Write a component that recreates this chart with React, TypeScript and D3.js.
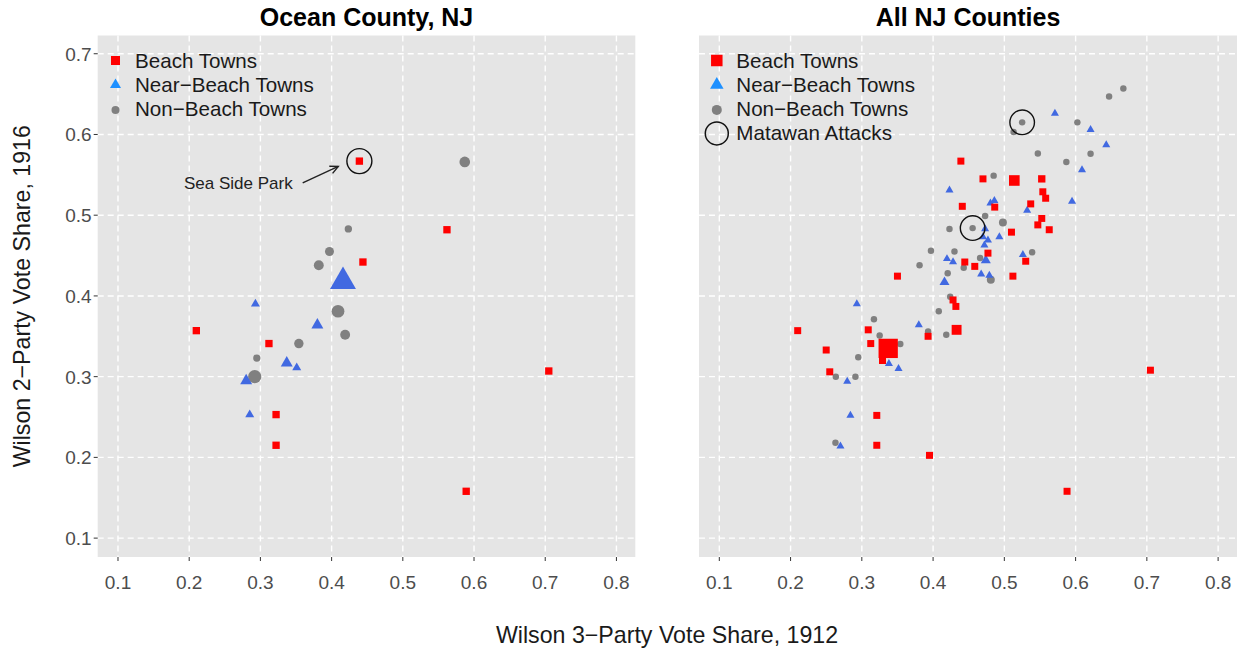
import React, { useEffect, useRef } from 'react';
import * as d3 from 'd3';

// tick values shared by both panels
const xTicks = [0.1, 0.2, 0.3, 0.4, 0.5, 0.6, 0.7, 0.8];
const yTicks = [0.1, 0.2, 0.3, 0.4, 0.5, 0.6, 0.7];

// Ocean County towns (left panel), pop = relative town population
const oceanBeachX = [0.439, 0.562, 0.444, 0.210, 0.312, 0.322, 0.322, 0.705, 0.589];
const oceanBeachY = [0.567, 0.482, 0.442, 0.357, 0.341, 0.253, 0.215, 0.307, 0.158];
const oceanBeachPop = [1.1, 1.1, 1.1, 1.1, 1.1, 1.1, 1.1, 1.1, 1.1];

const oceanNearX = [0.416, 0.293, 0.380, 0.337, 0.351, 0.280, 0.285];
const oceanNearY = [0.418, 0.390, 0.364, 0.317, 0.311, 0.295, 0.253];
const oceanNearPop = [10.4, 1.25, 2.2, 2.2, 1.25, 2.2, 1.25];

const oceanNonX = [0.587, 0.4235, 0.397, 0.382, 0.409, 0.419, 0.354, 0.295, 0.292];
const oceanNonY = [0.566, 0.483, 0.455, 0.438, 0.381, 0.352, 0.341, 0.323, 0.300];
const oceanNonPop = [2.3, 1.1, 1.65, 2.0, 3.3, 2.0, 1.8, 1.1, 3.6];

// all NJ towns (right panel)
const allBeachX = [0.514, 0.5525, 0.554, 0.558, 0.537, 0.5525, 0.547, 0.510, 0.563, 0.530, 0.512, 0.439,
  0.470, 0.4865, 0.441, 0.477, 0.4445, 0.4585, 0.350, 0.428, 0.432, 0.433, 0.393, 0.309, 0.3125, 0.337,
  0.329, 0.210, 0.250, 0.255, 0.321, 0.321, 0.395, 0.705, 0.588];
const allBeachY = [0.543, 0.545, 0.529, 0.521, 0.514, 0.496, 0.488, 0.479, 0.482, 0.443, 0.4245, 0.567,
  0.545, 0.510, 0.511, 0.453, 0.442, 0.4366, 0.4245, 0.395, 0.387, 0.358, 0.350, 0.358, 0.341, 0.335,
  0.320, 0.357, 0.333, 0.306, 0.252, 0.215, 0.2025, 0.308, 0.158];
const allBeachPop = [2.3, 1.1, 1, 1, 1, 1, 1, 1, 1, 1, 1, 1, 1, 1, 1, 1, 1, 1, 1, 1, 1, 2.0, 1, 1, 1, 7.6,
  1, 1, 1, 1, 1, 1, 1, 1, 1];

const allNearX = [0.571, 0.621, 0.643, 0.609, 0.595, 0.532, 0.526, 0.423, 0.4805, 0.486, 0.473, 0.493,
  0.470, 0.477, 0.472, 0.474, 0.4195, 0.428, 0.4675, 0.479, 0.416, 0.293, 0.380, 0.338, 0.3515, 0.2795,
  0.284, 0.270];
const allNearY = [0.626, 0.606, 0.587, 0.556, 0.517, 0.506, 0.451, 0.531, 0.515, 0.518, 0.483, 0.473,
  0.473, 0.469, 0.463, 0.444, 0.446, 0.442, 0.427, 0.4255, 0.417, 0.390, 0.364, 0.316, 0.310, 0.294,
  0.252, 0.214];
const allNearPop = [1, 1, 1, 1, 1, 1, 1, 1, 1, 1, 1, 1, 1, 1, 1, 1.55, 1, 1, 1, 1, 1.55, 1, 1, 1, 1, 1, 1, 1];

const allNonX = [0.667, 0.647, 0.525, 0.513, 0.6025, 0.547, 0.587, 0.621, 0.485, 0.498, 0.473, 0.4555,
  0.423, 0.397, 0.430, 0.466, 0.443, 0.381, 0.4205, 0.481, 0.539, 0.424, 0.408, 0.317, 0.325, 0.393,
  0.4185, 0.354, 0.295, 0.291, 0.2635, 0.263];
const allNonY = [0.657, 0.647, 0.615, 0.603, 0.615, 0.5765, 0.566, 0.576, 0.549, 0.491, 0.499, 0.484,
  0.483, 0.456, 0.455, 0.447, 0.435, 0.438, 0.428, 0.420, 0.454, 0.399, 0.381, 0.371, 0.351, 0.356,
  0.352, 0.3405, 0.324, 0.300, 0.300, 0.218];
const allNonPop = [0.85, 0.85, 0.85, 0.85, 0.85, 0.85, 0.85, 0.85, 0.85, 1.3, 0.85, 0.85, 0.85, 0.85,
  0.85, 0.85, 0.85, 0.85, 0.85, 1.3, 0.85, 0.85, 0.85, 0.85, 0.85, 0.85, 0.85, 0.85, 0.85, 0.85, 0.85, 0.85];

// highlighted towns
const matawanX = [0.525, 0.4555];
const matawanY = [0.615, 0.484];
const seaSideX = [0.439];
const seaSideY = [0.567];
const seaSideLabel = 'Sea Side Park';
const seaSideArrow = [[0.3594, 0.5399], [0.4094, 0.5604]];

const legendLabels = ['Beach Towns', 'Near\u2212Beach Towns', 'Non\u2212Beach Towns', 'Matawan Attacks'];

const FONT = '"Liberation Sans", Arial, Helvetica, sans-serif';
const RED = '#FF0000';
const BLUE = '#4169E1';
const GREY = '#808080';

const xDomain: [number, number] = [0.0715, 0.8265];
const yDomain: [number, number] = [0.0766, 0.7226];
const top = 35.5;
const bottom = 557;

const sizeScale = d3.scaleSqrt().domain([0, 1]).range([0, 7]);

type Series = { xs: number[]; ys: number[]; pop: number[] };

export default function App() {
  const ref = useRef<SVGSVGElement>(null);

  useEffect(() => {
    const svg = d3.select(ref.current);
    svg.selectAll('*').remove();

    const drawPanel = (left: number, right: number, title: string, yLabels: boolean,
      beach: Series, near: Series, non: Series) => {
      const x = d3.scaleLinear().domain(xDomain).range([left, right]);
      const y = d3.scaleLinear().domain(yDomain).range([bottom, top]);
      const g = svg.append('g');

      g.append('rect')
        .attr('x', left).attr('y', top)
        .attr('width', right - left).attr('height', bottom - top)
        .attr('fill', '#E5E5E5');

      g.selectAll('.vgrid').data(xTicks).enter().append('line')
        .attr('x1', d => x(d)).attr('x2', d => x(d))
        .attr('y1', top).attr('y2', bottom)
        .attr('stroke', '#fff').attr('stroke-width', 1.4).attr('stroke-dasharray', '6,4');
      g.selectAll('.hgrid').data(yTicks).enter().append('line')
        .attr('x1', left).attr('x2', right)
        .attr('y1', d => y(d)).attr('y2', d => y(d))
        .attr('stroke', '#fff').attr('stroke-width', 1.4).attr('stroke-dasharray', '6,4');

      // x ticks + labels
      g.selectAll('.xtick').data(xTicks).enter().append('line')
        .attr('x1', d => x(d)).attr('x2', d => x(d))
        .attr('y1', bottom).attr('y2', bottom + 4)
        .attr('stroke', '#333').attr('stroke-width', 1);
      g.selectAll('.xlab').data(xTicks).enter().append('text')
        .attr('x', d => x(d)).attr('y', 588.5)
        .attr('text-anchor', 'middle')
        .attr('font-family', FONT).attr('font-size', 19).attr('fill', '#4D4D4D')
        .text(d => d3.format('.1f')(d));

      if (yLabels) {
        g.selectAll('.ytick').data(yTicks).enter().append('line')
          .attr('x1', left - 4).attr('x2', left)
          .attr('y1', d => y(d)).attr('y2', d => y(d))
          .attr('stroke', '#333').attr('stroke-width', 1);
        g.selectAll('.ylab').data(yTicks).enter().append('text')
          .attr('x', left - 6).attr('y', d => y(d) + 7)
          .attr('text-anchor', 'end')
          .attr('font-family', FONT).attr('font-size', 19).attr('fill', '#4D4D4D')
          .text(d => d3.format('.1f')(d));
      }

      g.append('text')
        .attr('x', (left + right) / 2).attr('y', 26)
        .attr('text-anchor', 'middle')
        .attr('font-family', FONT).attr('font-size', 25).attr('font-weight', 'bold')
        .text(title);

      const pts = g.append('g');
      const sq = (d: number) => d3.symbol().type(d3.symbolSquare).size(d * d)();
      const tri = (d: number) => d3.symbol().type(d3.symbolTriangle).size(Math.sqrt(3) / 4 * (d * 1.15) ** 2)();
      const circ = (d: number) => d3.symbol().type(d3.symbolCircle).size(Math.PI * (d / 2) ** 2)();

      pts.selectAll('.non').data(non.xs).enter().append('path')
        .attr('transform', (d, i) => `translate(${x(d)},${y(non.ys[i])})`)
        .attr('d', (d, i) => circ(sizeScale(non.pop[i])))
        .attr('fill', GREY);
      pts.selectAll('.near').data(near.xs).enter().append('path')
        .attr('transform', (d, i) => `translate(${x(d)},${y(near.ys[i])})`)
        .attr('d', (d, i) => tri(sizeScale(near.pop[i])))
        .attr('fill', BLUE);
      pts.selectAll('.beach').data(beach.xs).enter().append('path')
        .attr('transform', (d, i) => `translate(${x(d)},${y(beach.ys[i])})`)
        .attr('d', (d, i) => sq(sizeScale(beach.pop[i])))
        .attr('fill', RED);

      return { g, x, y };
    };

    const leftP = drawPanel(97.7, 635.3, 'Ocean County, NJ', true,
      { xs: oceanBeachX, ys: oceanBeachY, pop: oceanBeachPop },
      { xs: oceanNearX, ys: oceanNearY, pop: oceanNearPop },
      { xs: oceanNonX, ys: oceanNonY, pop: oceanNonPop });
    const rightP = drawPanel(699, 1237, 'All NJ Counties', false,
      { xs: allBeachX, ys: allBeachY, pop: allBeachPop },
      { xs: allNearX, ys: allNearY, pop: allNearPop },
      { xs: allNonX, ys: allNonY, pop: allNonPop });

    // Sea Side Park ring, label and arrow
    leftP.g.selectAll('.ring').data(seaSideX).enter().append('circle')
      .attr('cx', d => leftP.x(d)).attr('cy', (d, i) => leftP.y(seaSideY[i]))
      .attr('r', 12.5).attr('fill', 'none').attr('stroke', '#111').attr('stroke-width', 1.4);
    const [a0, a1] = seaSideArrow;
    const ax0 = leftP.x(a0[0]), ay0 = leftP.y(a0[1]);
    const ax1 = leftP.x(a1[0]), ay1 = leftP.y(a1[1]);
    leftP.g.append('line')
      .attr('x1', ax0).attr('y1', ay0).attr('x2', ax1).attr('y2', ay1)
      .attr('stroke', '#222').attr('stroke-width', 1.4);
    const ang = Math.atan2(ay1 - ay0, ax1 - ax0);
    const hl = 9, ha = Math.PI / 7;
    leftP.g.append('path')
      .attr('d', `M${ax1 - hl * Math.cos(ang - ha)},${ay1 - hl * Math.sin(ang - ha)}L${ax1},${ay1}L${ax1 - hl * Math.cos(ang + ha)},${ay1 - hl * Math.sin(ang + ha)}`)
      .attr('fill', 'none').attr('stroke', '#222').attr('stroke-width', 1.4);
    leftP.g.append('text')
      .attr('x', ax0 - 10).attr('y', ay0 + 6)
      .attr('text-anchor', 'end')
      .attr('font-family', FONT).attr('font-size', 17).attr('fill', '#222')
      .text(seaSideLabel);

    // Matawan rings
    rightP.g.selectAll('.ring').data(matawanX).enter().append('circle')
      .attr('cx', d => rightP.x(d)).attr('cy', (d, i) => rightP.y(matawanY[i]))
      .attr('r', 12.3).attr('fill', 'none').attr('stroke', '#111').attr('stroke-width', 1.4);

    // legends
    const legend = (lx: number, tx: number, rows: number, sqS: number, triW: number, cD: number) => {
      const lg = svg.append('g');
      const rowY = (i: number) => 60.5 + i * 24.3;
      lg.append('path').attr('transform', `translate(${lx},${rowY(0)})`)
        .attr('d', d3.symbol().type(d3.symbolSquare).size(sqS * sqS)()).attr('fill', RED);
      lg.append('path').attr('transform', `translate(${lx},${rowY(1)})`)
        .attr('d', d3.symbol().type(d3.symbolTriangle).size(Math.sqrt(3) / 4 * triW * triW)()).attr('fill', '#1E90FF');
      lg.append('path').attr('transform', `translate(${lx},${rowY(2) + 0.8})`)
        .attr('d', d3.symbol().type(d3.symbolCircle).size(Math.PI * (cD / 2) ** 2)()).attr('fill', GREY);
      if (rows > 3) {
        lg.append('circle').attr('cx', lx).attr('cy', rowY(3))
          .attr('r', 11.5).attr('fill', 'none').attr('stroke', '#111').attr('stroke-width', 1.5);
      }
      lg.selectAll('text').data(legendLabels.slice(0, rows)).enter().append('text')
        .attr('x', tx).attr('y', (d, i) => rowY(i) + 7)
        .attr('font-family', FONT).attr('font-size', 20.6).attr('fill', '#1a1a1a')
        .text(d => d);
    };
    legend(115.5, 135, 3, 9, 11, 8);
    legend(716.8, 736.3, 4, 11.5, 13.5, 10);

    // axis titles
    svg.append('text')
      .attr('x', 667).attr('y', 643)
      .attr('text-anchor', 'middle')
      .attr('font-family', FONT).attr('font-size', 23.2).attr('fill', '#1a1a1a')
      .text('Wilson 3\u2212Party Vote Share, 1912');
    svg.append('text')
      .attr('transform', `translate(30,${(top + bottom) / 2}) rotate(-90)`)
      .attr('text-anchor', 'middle')
      .attr('font-family', FONT).attr('font-size', 23.2).attr('fill', '#1a1a1a')
      .text('Wilson 2\u2212Party Vote Share, 1916');
  }, []);

  return (
    <svg ref={ref} width={1241} height={654}
      style={{ position: 'absolute', left: 0, top: 0, background: '#fff' }} />
  );
}
